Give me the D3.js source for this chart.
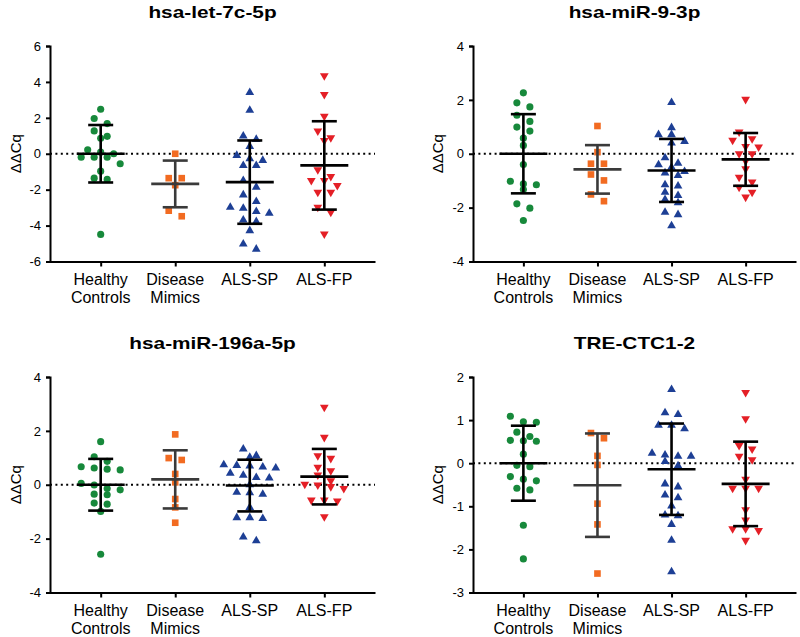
<!DOCTYPE html>
<html><head><meta charset="utf-8">
<script src="https://cdn.jsdelivr.net/npm/d3@7"></script>
<style>
body{margin:0;background:#fff}
svg{display:block}
text{font-family:Arial,"Liberation Sans",Helvetica,sans-serif;fill:#000}
</style>
</head><body>
<svg id="chart" width="800" height="637"></svg>
<script>
// ---------------- DATA ----------------
const categories = ["Healthy Controls", "Disease Mimics", "ALS-SP", "ALS-FP"];
const categoryLines = [["Healthy", "Controls"], ["Disease", "Mimics"], ["ALS-SP"], ["ALS-FP"]];
const titles = ["hsa-let-7c-5p", "hsa-miR-9-3p", "hsa-miR-196a-5p", "TRE-CTC1-2"];
const yLabel = "ΔΔCq";

// hsa-let-7c-5p
const let7c_HC = [2.48, 1.96, 1.68, 1.27, 0.97, 0.86, 0.22, 0.09, 0.0, -0.19, -0.19, -0.19, -0.56, -0.97, -1.36, -1.43, -4.49];
const let7c_DM = [0.0, -1.36, -1.36, -1.75, -3.17, -3.48];
const let7c_SP = [3.41, 2.42, 0.99, 0.80, 0.41, -0.09, -0.28, -0.37, -0.65, -0.65, -1.49, -1.86, -2.29, -2.66, -2.98, -3.04, -3.22, -3.31, -3.69, -3.78, -4.28, -5.03, -5.31];
const let7c_FP = [4.34, 3.30, 2.09, 1.27, 0.89, 0.74, -0.89, -1.27, -1.49, -1.49, -1.77, -2.14, -2.14, -2.98, -3.26, -4.47];
const let7c_mean = [0.0, -1.68, -1.58, -0.65];
const let7c_sd = [1.60, 1.30, 2.32, 2.46];
const let7c_ticks = [-6, -4, -2, 0, 2, 4, 6];

// hsa-miR-9-3p
const mir9_HC = [2.26, 1.89, 1.74, 1.43, 1.20, 0.99, 0.84, 0.58, 0.31, -0.40, -1.02, -1.12, -1.15, -1.33, -1.86, -2.02, -2.48];
const mir9_DM = [1.03, 0.06, -0.37, -0.37, -0.77, -0.99, -1.51, -1.76];
const mir9_SP = [1.90, 0.97, 0.71, 0.71, 0.46, 0.40, -0.15, -0.35, -0.41, -0.50, -0.66, -0.71, -0.81, -1.15, -1.20, -1.43, -1.55, -1.70, -1.82, -2.17, -2.26, -2.67];
const mir9_FP = [2.02, 0.81, 0.56, 0.50, 0.27, 0.25, 0.0, 0.0, -0.27, -0.56, -0.87, -1.05, -1.24, -1.43, -1.61];
const mir9_mean = [0.0, -0.58, -0.62, -0.21];
const mir9_sd = [1.47, 0.90, 1.17, 0.98];
const mir9_ticks = [-4, -2, 0, 2, 4];

// hsa-miR-196a-5p
const mir196_HC = [1.60, 1.04, 0.87, 0.67, 0.62, 0.58, 0.55, 0.05, -0.01, -0.14, -0.19, -0.35, -0.37, -0.68, -0.72, -0.99, -2.58];
const mir196_DM = [1.87, 0.99, 0.92, 0.40, 0.09, -0.53, -0.84, -1.41];
const mir196_SP = [1.33, 1.08, 1.02, 0.74, 0.72, 0.70, 0.66, 0.62, 0.43, 0.35, 0.27, 0.25, 0.0, -0.28, -0.30, -0.35, -0.84, -1.22, -1.22, -1.25, -1.94, -2.08];
const mir196_FP = [2.88, 1.76, 1.08, 0.98, 0.65, 0.52, 0.36, 0.15, 0.02, -0.01, -0.07, -0.14, -0.57, -0.57, -0.60, -1.19];
const mir196_mean = [0.0, 0.20, -0.03, 0.30];
const mir196_sd = [0.96, 1.08, 0.96, 1.03];
const mir196_ticks = [-4, -2, 0, 2, 4];

// TRE-CTC1-2
const tre_HC = [1.09, 0.96, 0.95, 0.72, 0.62, 0.53, 0.52, 0.51, 0.21, -0.05, -0.08, -0.31, -0.37, -0.41, -0.58, -0.62, -1.44, -2.22];
const tre_DM = [0.70, 0.58, 0.17, -0.04, -0.94, -1.42, -2.56];
const tre_SP = [1.71, 1.17, 1.13, 0.88, 0.88, 0.80, 0.23, 0.19, 0.16, 0.16, 0.04, -0.06, -0.48, -0.55, -0.74, -0.80, -0.99, -1.20, -1.22, -1.42, -1.79, -2.52];
const tre_FP = [1.64, 1.03, 0.41, 0.33, 0.16, 0.08, -0.37, -0.58, -0.58, -0.58, -1.08, -1.32, -1.52, -1.52, -1.56, -1.79];
const tre_mean = [0.0, -0.51, -0.14, -0.48];
const tre_sd = [0.87, 1.20, 1.06, 0.98];
const tre_ticks = [-3, -2, -1, 0, 1, 2];

// ---------------- STYLE / LAYOUT ----------------
const groupColors = ["#17893b", "#f26b21", "#1d3f95", "#e41f26"];
const barColors = ["#000", "#3a3a3a", "#000", "#000"];
const symbols = [d3.symbolCircle, d3.symbolSquare, d3.symbolTriangle, d3.symbolTriangle];
const symSizes = [40, 44, 33, 33];
const symRot = [0, 0, 0, 180];

const layout = [
  {x0: 50,  x1: 375, yT: 46,  yB: 261.5, ty: 17.5, lx: 16},
  {x0: 473, x1: 796, yT: 46,  yB: 261.5, ty: 17.5, lx: 438},
  {x0: 50,  x1: 375, yT: 377, yB: 592.5, ty: 349,  lx: 16},
  {x0: 473, x1: 796, yT: 377, yB: 592.5, ty: 349,  lx: 438}
];

const panels = [
  {groups: [let7c_HC, let7c_DM, let7c_SP, let7c_FP], mean: let7c_mean, sd: let7c_sd, ticks: let7c_ticks},
  {groups: [mir9_HC, mir9_DM, mir9_SP, mir9_FP], mean: mir9_mean, sd: mir9_sd, ticks: mir9_ticks},
  {groups: [mir196_HC, mir196_DM, mir196_SP, mir196_FP], mean: mir196_mean, sd: mir196_sd, ticks: mir196_ticks},
  {groups: [tre_HC, tre_DM, tre_SP, tre_FP], mean: tre_mean, sd: tre_sd, ticks: tre_ticks}
];

const svg = d3.select("#chart");

// row-based beeswarm (GraphPad-like)
function swarm(vals, y, cx, spacing, thresh) {
  const pts = vals.map(v => ({v, py: y(v)})).sort((a, b) => a.py - b.py);
  const rows = [];
  let cur = null;
  pts.forEach(p => {
    if (cur && p.py - cur[0].py < thresh) cur.push(p);
    else { cur = [p]; rows.push(cur); }
  });
  rows.forEach(r => r.forEach((p, i) => { p.px = cx + (i - (r.length - 1) / 2) * spacing; }));
  return pts;
}

panels.forEach((P, pi) => {
  const L = layout[pi];
  const g = svg.append("g");
  const x = d3.scalePoint().domain(categories).range([L.x0, L.x1]).padding(0.68);
  const ext = d3.extent(P.ticks);
  const y = d3.scaleLinear().domain(ext).range([L.yB, L.yT]);

  // title
  g.append("text")
    .attr("transform", `translate(${(L.x0 + L.x1) / 2},${L.ty}) scale(1.3,1)`)
    .attr("text-anchor", "middle")
    .style("font-weight", "bold").style("font-size", "16px")
    .text(titles[pi]);

  // y label
  g.append("text")
    .attr("transform", `translate(${L.lx},${(L.yT + L.yB) / 2}) rotate(-90)`)
    .attr("text-anchor", "middle")
    .attr("dy", "0.35em")
    .style("font-size", "15px")
    .text(yLabel);

  // zero dotted line
  g.append("line")
    .attr("x1", L.x0).attr("x2", L.x1)
    .attr("y1", y(0)).attr("y2", y(0))
    .attr("stroke", "#000").attr("stroke-width", 2)
    .attr("stroke-dasharray", "2,3.4");

  // points
  P.groups.forEach((vals, gi) => {
    const cx = x(categories[gi]);
    const pts = swarm(vals, y, cx, 13, 7);
    const sym = d3.symbol().type(symbols[gi]).size(symSizes[gi]);
    g.append("g").selectAll("path").data(pts).join("path")
      .attr("d", sym)
      .attr("transform", d => `translate(${d.px},${d.py}) rotate(${symRot[gi]})`)
      .attr("fill", groupColors[gi]);
  });

  // mean ± SD bars
  P.groups.forEach((vals, gi) => {
    const cx = x(categories[gi]);
    const m = P.mean[gi], s = P.sd[gi];
    const col = barColors[gi];
    const eb = g.append("g").attr("stroke", col).attr("stroke-width", 2.6).attr("fill", "none");
    eb.append("line").attr("x1", cx).attr("x2", cx).attr("y1", y(m + s)).attr("y2", y(m - s));
    eb.append("line").attr("x1", cx - 12.5).attr("x2", cx + 12.5).attr("y1", y(m + s)).attr("y2", y(m + s));
    eb.append("line").attr("x1", cx - 12.5).attr("x2", cx + 12.5).attr("y1", y(m - s)).attr("y2", y(m - s));
    eb.append("line").attr("x1", cx - 24).attr("x2", cx + 24).attr("y1", y(m)).attr("y2", y(m));
  });

  // y axis
  const ya = g.append("g").attr("transform", `translate(${L.x0},0)`)
    .call(d3.axisLeft(y).tickValues(P.ticks).tickSize(4).tickSizeOuter(4).tickPadding(5).tickFormat(d => String(d)));
  ya.select(".domain").attr("stroke-width", 2);
  ya.selectAll(".tick line").attr("stroke-width", 2);
  ya.selectAll(".tick text").style("font-size", "13px").style("font-family", "Arial, 'Liberation Sans', sans-serif");

  // x axis
  const xa = g.append("g").attr("transform", `translate(0,${L.yB})`)
    .call(d3.axisBottom(x).tickSize(5).tickSizeOuter(0).tickFormat(""));
  xa.select(".domain").attr("stroke-width", 2);
  xa.selectAll(".tick line").attr("stroke-width", 2);
  xa.selectAll(".tick text").remove();

  categories.forEach((c, ci) => {
    const t = g.append("text")
      .attr("x", x(c)).attr("y", L.yB + 23.5)
      .attr("text-anchor", "middle")
      .style("font-size", "16px");
    categoryLines[ci].forEach((ln, li) => {
      t.append("tspan").attr("x", x(c)).attr("dy", li === 0 ? 0 : 18).text(ln);
    });
  });
});
</script>
</body></html>
